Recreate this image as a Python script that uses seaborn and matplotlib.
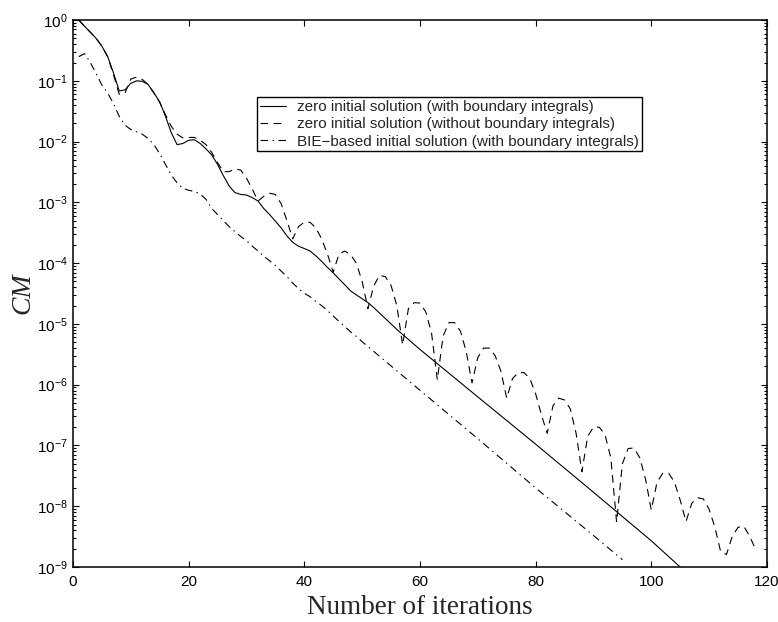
import matplotlib
matplotlib.use("Agg")
import matplotlib.pyplot as plt
import pandas as pd
import seaborn as sns
from matplotlib.ticker import LogLocator, NullFormatter, FixedLocator

# ---- data -------------------------------------------------------------
series_labels = [
    "zero initial solution (with boundary integrals)",
    "zero initial solution (without boundary integrals)",
    "BIE\u2212based initial solution (with boundary integrals)",
]

iter_zero_bi = list(range(1, 57)) + [60, 70, 80, 90, 100, 105]
cm_zero_bi = [
    1.0, 0.79, 0.63, 0.50, 0.37, 0.25, 0.135, 0.068, 0.071, 0.091,
    0.100, 0.098, 0.087, 0.063, 0.045, 0.026, 0.014, 0.0089, 0.0093, 0.0105,
    0.0107, 0.0093, 0.0076, 0.0060, 0.0042, 0.00275, 0.00186, 0.00145, 0.00135, 0.00132,
    0.00120, 0.00105, 7.9e-4, 6.3e-4, 4.9e-4, 3.8e-4, 2.8e-4, 2.2e-4, 1.9e-4, 1.74e-4,
    1.58e-4, 1.32e-4, 1.07e-4, 8.5e-5, 6.9e-5, 5.5e-5, 4.4e-5, 3.5e-5, 3.0e-5, 2.6e-5,
    2.24e-5, 1.86e-5, 1.51e-5, 1.23e-5, 1.0e-5, 8.1e-6,
    3.8e-6, 6.3e-7, 1.05e-7, 1.7e-8, 2.7e-9, 1.0e-9,
]

iter_zero_nobi = list(range(1, 119))
cm_zero_nobi = [
    1.0, 0.79, 0.63, 0.50, 0.37, 0.25, 0.126, 0.060, 0.063, 0.107,
    0.115, 0.105, 0.087, 0.063, 0.044, 0.0275, 0.0178, 0.0132, 0.0115, 0.0117,
    0.0117, 0.0105, 0.0089, 0.0066, 0.0045, 0.0032, 0.0032, 0.00355, 0.0034, 0.0025,
    0.00166, 0.00105, 0.00126, 0.00141, 0.00135, 9.5e-4, 5.0e-4, 2.5e-4, 4.0e-4, 4.7e-4,
    4.7e-4, 3.8e-4, 2.5e-4, 1.41e-4, 7.1e-5, 1.41e-4, 1.58e-4, 1.38e-4, 1.0e-4, 5.0e-5,
    1.78e-5, 4.2e-5, 6.3e-5, 6.0e-5, 4.3e-5, 2.0e-5, 4.5e-6, 1.78e-5, 2.24e-5, 2.2e-5,
    1.58e-5, 7.1e-6, 1.2e-6, 6.3e-6, 1.05e-5, 1.05e-5, 7.6e-6, 3.5e-6, 1.07e-6, 2.8e-6,
    4.0e-6, 4.0e-6, 3.0e-6, 1.66e-6, 6.0e-7, 1.26e-6, 1.58e-6, 1.58e-6, 1.26e-6, 7.1e-7,
    3.2e-7, 1.58e-7, 4.5e-7, 6.0e-7, 5.6e-7, 4.0e-7, 1.58e-7, 3.7e-8, 1.41e-7, 2.0e-7,
    2.0e-7, 1.5e-7, 6.3e-8, 5.5e-9, 5.0e-8, 8.9e-8, 9.1e-8, 6.3e-8, 2.8e-8, 8.7e-9,
    2.5e-8, 3.5e-8, 3.5e-8, 2.5e-8, 1.26e-8, 5.6e-9, 1.12e-8, 1.38e-8, 1.32e-8, 8.9e-9,
    4.5e-9, 1.78e-9, 1.6e-9, 3.2e-9, 4.5e-9, 4.7e-9, 3.2e-9, 2.0e-9,
]

iter_bie = list(range(1, 51)) + [60, 70, 80, 90, 95]
cm_bie = [
    0.25, 0.28, 0.20, 0.132, 0.085, 0.063, 0.042, 0.026, 0.0186, 0.0158,
    0.0145, 0.0132, 0.0112, 0.0089, 0.0063, 0.0042, 0.0028, 0.0021, 0.0017, 0.00158,
    0.00151, 0.00138, 0.00112, 7.9e-4, 6.3e-4, 5.0e-4, 4.0e-4, 3.3e-4, 2.75e-4, 2.34e-4,
    1.9e-4, 1.58e-4, 1.29e-4, 1.1e-4, 9.1e-5, 7.4e-5, 6.0e-5, 4.7e-5, 3.8e-5, 3.2e-5,
    2.8e-5, 2.34e-5, 2.0e-5, 1.66e-5, 1.35e-5, 1.1e-5, 9.1e-6, 7.4e-6, 6.2e-6, 5.1e-6,
    8.1e-7, 1.29e-7, 2.0e-8, 3.3e-9, 1.32e-9,
]

x_ticks = [0, 20, 40, 60, 80, 100, 120]

# ---- long-form table ---------------------------------------------------
frames = []
for lab, xs, ys in zip(series_labels,
                       [iter_zero_bi, iter_zero_nobi, iter_bie],
                       [cm_zero_bi, cm_zero_nobi, cm_bie]):
    frames.append(pd.DataFrame({"iteration": xs, "CM": ys, "run": lab}))
df = pd.concat(frames, ignore_index=True)

# ---- style -------------------------------------------------------------
sns.set_theme(style="ticks")
plt.rcParams["font.family"] = ["Liberation Sans", "DejaVu Sans"]
plt.rcParams["mathtext.default"] = "regular"
plt.rcParams["lines.scale_dashes"] = False
plt.rcParams["axes.linewidth"] = 1.1

fig = plt.figure(figsize=(7.78, 6.22), dpi=100)
ax = fig.add_axes([0.0938, 0.0884, 0.8920, 0.8794])

palette = {lab: "black" for lab in series_labels}
dashes = {
    series_labels[0]: "",
    series_labels[1]: (5.5, 4.0),
    series_labels[2]: (5.5, 3.2, 1.0, 3.2),
}

sns.lineplot(data=df, x="iteration", y="CM", hue="run", style="run",
             hue_order=series_labels, style_order=series_labels,
             palette=palette, dashes=dashes, estimator=None, sort=False,
             linewidth=0.8, ax=ax)

ax.set_yscale("log")
ax.set_xlim(0, 120)
ax.set_ylim(1e-9, 1)
ax.xaxis.set_major_locator(FixedLocator(x_ticks))
ax.yaxis.set_major_locator(LogLocator(base=10, numticks=20))
ax.yaxis.set_minor_locator(LogLocator(base=10, subs=range(2, 10), numticks=20))
ax.yaxis.set_minor_formatter(NullFormatter())
ax.xaxis.get_offset_text().set_visible(False)
ax.yaxis.get_offset_text().set_visible(False)

ax.tick_params(which="both", direction="in", top=True, right=True,
               colors="black", labelsize=11, width=0.8)
ax.tick_params(which="major", length=4.5)
ax.tick_params(which="minor", length=2.5)
ax.tick_params(axis="x", pad=6)
ax.tick_params(axis="y", pad=4)
for s in ax.spines.values():
    s.set_visible(True)
    s.set_color("black")

ax.set_xlabel("Number of iterations", fontfamily="Liberation Serif",
              fontsize=19.5, labelpad=4)
ax.set_ylabel("CM", fontfamily="Liberation Serif", fontstyle="italic",
              fontsize=20, labelpad=1)

handles, labels = ax.get_legend_handles_labels()
leg = ax.legend(handles, labels, loc="upper left",
                bbox_to_anchor=(0.265, 0.859), frameon=True, fancybox=False,
                edgecolor="black", framealpha=1, fontsize=11,
                handlelength=1.7, handletextpad=0.75, borderpad=0.18,
                labelspacing=0.22, borderaxespad=0)
leg.get_frame().set_linewidth(1.0)

fig.savefig("out.png", dpi=100)
